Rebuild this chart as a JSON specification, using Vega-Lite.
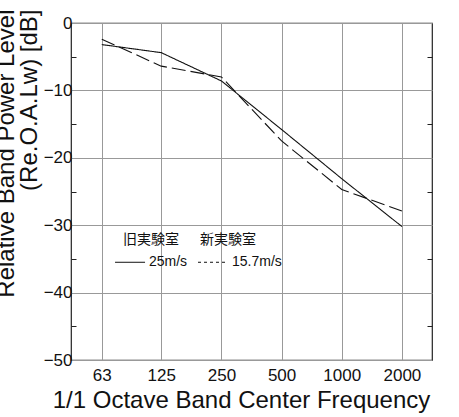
{
  "$schema": "https://vega.github.io/schema/vega-lite/v6.json",
  "width": 361,
  "height": 337,
  "autosize": {"type": "none"},
  "padding": {"left": 71, "top": 23, "right": 27, "bottom": 57},
  "background": "white",
  "config": {
    "view": {"stroke": "#222", "strokeWidth": 1.2},
    "axis": {
      "labelFont": "Liberation Sans, Arial, sans-serif",
      "labelFontSize": 17,
      "labelColor": "#111",
      "titleFont": "Liberation Sans, Arial, sans-serif",
      "titleFontWeight": "normal",
      "titleColor": "#111",
      "gridColor": "#999",
      "gridWidth": 1,
      "tickColor": "#222"
    },
    "text": {"color": "#111"}
  },
  "resolve": {"axis": {"y": "independent"}},
  "layer": [
    {
      "data": {
        "values": [
          {"freq": 63, "level": -3.2, "room": "旧実験室 25m/s"},
          {"freq": 125, "level": -4.4, "room": "旧実験室 25m/s"},
          {"freq": 250, "level": -8.6, "room": "旧実験室 25m/s"},
          {"freq": 500, "level": -15.8, "room": "旧実験室 25m/s"},
          {"freq": 1000, "level": -23.1, "room": "旧実験室 25m/s"},
          {"freq": 2000, "level": -30.2, "room": "旧実験室 25m/s"},
          {"freq": 63, "level": -2.4, "room": "新実験室 15.7m/s"},
          {"freq": 125, "level": -6.4, "room": "新実験室 15.7m/s"},
          {"freq": 250, "level": -8.0, "room": "新実験室 15.7m/s"},
          {"freq": 500, "level": -17.5, "room": "新実験室 15.7m/s"},
          {"freq": 1000, "level": -24.7, "room": "新実験室 15.7m/s"},
          {"freq": 2000, "level": -27.9, "room": "新実験室 15.7m/s"}
        ]
      },
      "mark": {"type": "line", "color": "#111", "strokeWidth": 1.1},
      "encoding": {
        "x": {
          "field": "freq",
          "type": "quantitative",
          "scale": {"type": "log", "base": 2, "domain": [44.194, 2828.4], "nice": false},
          "axis": {
            "values": [63, 125, 250, 500, 1000, 2000],
            "format": "d",
            "grid": true,
            "ticks": false,
            "domain": false,
            "labelPadding": 7,
            "title": "1/1 Octave Band Center Frequency",
            "titleFontSize": 24,
            "titleX": 170,
            "titlePadding": 5
          }
        },
        "y": {
          "field": "level",
          "type": "quantitative",
          "scale": {"domain": [-50, 0], "nice": false},
          "axis": {
            "values": [-50, -45, -40, -35, -30, -25, -20, -15, -10, -5, 0],
            "labelExpr": "datum.value % 10 === 0 ? datum.label : ''",
            "gridOpacity": {"condition": {"test": "datum.value % 10 !== 0", "value": 0}, "value": 1},
            "tickOpacity": {"condition": {"test": "datum.value % 10 !== 0", "value": 1}, "value": 0},
            "tickSize": -5,
            "domain": false,
            "labelPadding": 4,
            "title": ["Relative Band Power Level", "(Re.O.A.Lw) [dB]"],
            "titleFontSize": 24,
            "titleLineHeight": 23,
            "titleAnchor": "end",
            "titleAlign": "right",
            "titleY": -14,
            "titlePadding": 2
          }
        },
        "strokeDash": {
          "field": "room",
          "type": "nominal",
          "scale": {"domain": ["旧実験室 25m/s", "新実験室 15.7m/s"], "range": [[1, 0], [14, 5]]},
          "legend": null
        }
      }
    },
    {
      "data": {"values": [{}]},
      "mark": {"type": "text", "align": "left", "baseline": "middle", "font": "Noto Sans CJK JP", "fontSize": 14},
      "encoding": {
        "x": {"datum": 80.4, "type": "quantitative"},
        "y": {
          "datum": -32.2,
          "type": "quantitative",
          "axis": {
            "orient": "right",
            "values": [-45, -35, -25, -15, -5],
            "labels": false,
            "grid": false,
            "domain": false,
            "tickSize": -5,
            "title": null
          }
        },
        "text": {"value": "旧実験室"}
      }
    },
    {
      "data": {"values": [{}]},
      "mark": {"type": "text", "align": "left", "baseline": "middle", "font": "Noto Sans CJK JP", "fontSize": 14},
      "encoding": {
        "x": {"datum": 195.3, "type": "quantitative"},
        "y": {"datum": -32.2, "type": "quantitative", "axis": null},
        "text": {"value": "新実験室"}
      }
    },
    {
      "data": {"values": [{}]},
      "mark": {"type": "rule", "color": "#111", "strokeWidth": 1},
      "encoding": {
        "x": {"datum": 73.4, "type": "quantitative"},
        "x2": {"datum": 103.7},
        "y": {"datum": -35.5, "type": "quantitative", "axis": null}
      }
    },
    {
      "data": {"values": [{}]},
      "mark": {"type": "text", "align": "left", "baseline": "middle", "font": "Liberation Sans, Arial, sans-serif", "fontSize": 14},
      "encoding": {
        "x": {"datum": 108.5, "type": "quantitative"},
        "y": {"datum": -35.5, "type": "quantitative", "axis": null},
        "text": {"value": "25m/s"}
      }
    },
    {
      "data": {"values": [{}]},
      "mark": {"type": "rule", "color": "#111", "strokeWidth": 1, "strokeDash": [3, 3]},
      "encoding": {
        "x": {"datum": 190.9, "type": "quantitative"},
        "x2": {"datum": 263.5},
        "y": {"datum": -35.5, "type": "quantitative", "axis": null}
      }
    },
    {
      "data": {"values": [{}]},
      "mark": {"type": "text", "align": "left", "baseline": "middle", "font": "Liberation Sans, Arial, sans-serif", "fontSize": 14},
      "encoding": {
        "x": {"datum": 282.4, "type": "quantitative"},
        "y": {"datum": -35.5, "type": "quantitative", "axis": null},
        "text": {"value": "15.7m/s"}
      }
    }
  ]
}
